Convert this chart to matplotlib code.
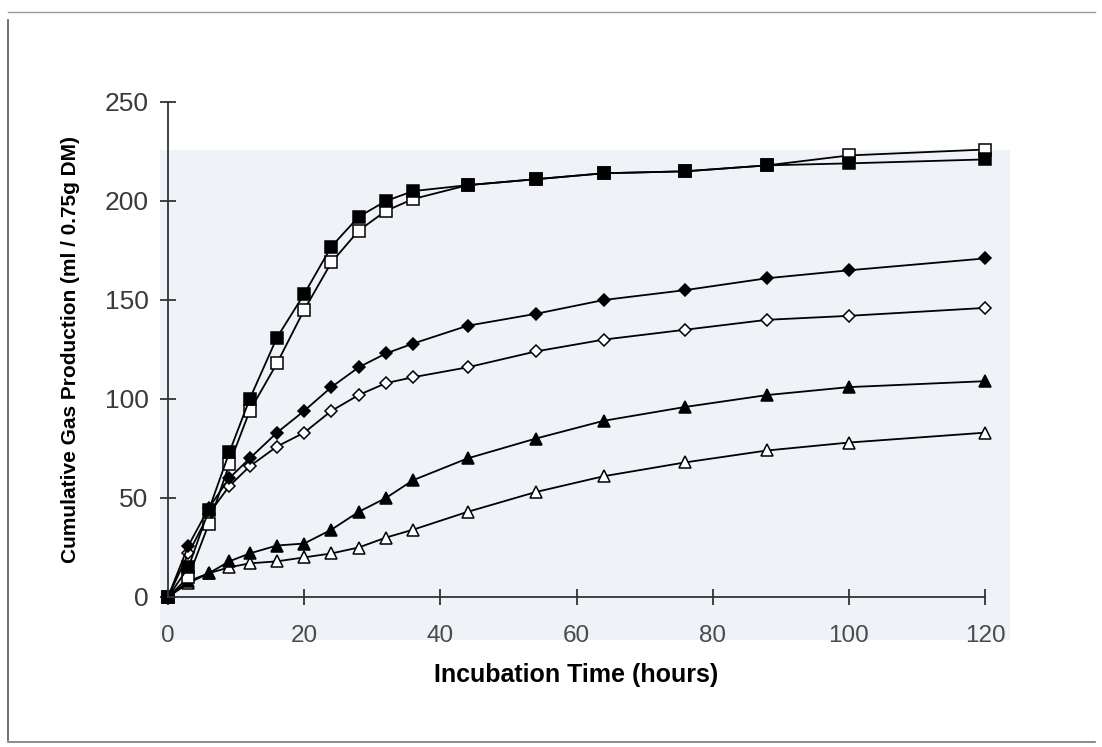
import matplotlib.pyplot as plt
from matplotlib.patches import Rectangle
from matplotlib.lines import Line2D

plt.rcParams['font.family'] = ['Liberation Sans', 'DejaVu Sans']

# incubation times (hours)
hours = [0, 3, 6, 9, 12, 16, 20, 24, 28, 32, 36, 44, 54, 64, 76, 88, 100, 120]

# cumulative gas production (ml / 0.75 g DM)
filled_square = [0, 15, 44, 73, 100, 131, 153, 177, 192, 200, 205, 208, 211, 214, 215, 218, 219, 221]
open_square = [0, 10, 37, 67, 94, 118, 145, 169, 185, 195, 201, 208, 211, 214, 215, 218, 223, 226]
filled_diamond = [0, 26, 45, 60, 70, 83, 94, 106, 116, 123, 128, 137, 143, 150, 155, 161, 165, 171]
open_diamond = [0, 22, 42, 56, 66, 76, 83, 94, 102, 108, 111, 116, 124, 130, 135, 140, 142, 146]
filled_triangle = [0, 8, 12, 18, 22, 26, 27, 34, 43, 50, 59, 70, 80, 89, 96, 102, 106, 109]
open_triangle = [0, 7, 12, 15, 17, 18, 20, 22, 25, 30, 34, 43, 53, 61, 68, 74, 78, 83]

W, H = 1102, 747
fig = plt.figure(figsize=(W / 100, H / 100), dpi=100)
fig.patch.set_facecolor('white')

# faint tinted area of the scanned page behind the plot
fig.patches.append(Rectangle((160 / W, 1 - 640 / H), 850 / W, 490 / H,
                             transform=fig.transFigure, facecolor='#eff2f7',
                             edgecolor='none', zorder=-5))
# scan border lines
fig.lines.append(Line2D([8 / W, 8 / W], [1 - 20 / H, 1 - 740 / H], transform=fig.transFigure,
                        color='#555555', lw=1.2, zorder=-5))
fig.lines.append(Line2D([8 / W, 1095 / W], [1 - 12 / H, 1 - 12 / H], transform=fig.transFigure,
                        color='#999999', lw=1.0, zorder=-5))
fig.lines.append(Line2D([8 / W, 1095 / W], [1 - 742 / H, 1 - 742 / H], transform=fig.transFigure,
                        color='#777777', lw=1.2, zorder=-5))

ax = fig.add_axes([168 / W, 1 - 597 / H, (985 - 168) / W, (597 - 102) / H])
ax.set_facecolor('none')

kw = dict(color='black', lw=1.3, markeredgecolor='black', markeredgewidth=1.1, clip_on=False)
ax.plot(hours, open_triangle, marker='^', ms=8, markerfacecolor='white', **kw)
ax.plot(hours, filled_triangle, marker='^', ms=8, markerfacecolor='black', **kw)
ax.plot(hours, open_diamond, marker='D', ms=6, markerfacecolor='white', **kw)
ax.plot(hours, filled_diamond, marker='D', ms=6, markerfacecolor='black', **kw)
ax.plot(hours, open_square, marker='s', ms=9, markerfacecolor='white', **kw)
ax.plot(hours, filled_square, marker='s', ms=9, markerfacecolor='black', **kw)

ax.set_xlim(0, 120)
ax.set_ylim(0, 250)
ax.set_xticks(range(0, 121, 20))
ax.set_yticks(range(0, 251, 50))

for s in ['top', 'right']:
    ax.spines[s].set_visible(False)
for s in ['left', 'bottom']:
    ax.spines[s].set_color('#333333')
    ax.spines[s].set_linewidth(1.3)

ax.tick_params(axis='x', direction='inout', length=12, width=1.3, colors='#333333',
               labelsize=17.5, labelcolor='#4a4a4a', pad=14)
ax.tick_params(axis='y', direction='inout', length=12, width=1.3, colors='#333333',
               labelsize=19, labelcolor='#3a3a3a', pad=8)

ax.set_xlabel('Incubation Time (hours)', fontsize=18, fontweight='bold', labelpad=12)
ax.set_ylabel('Cumulative Gas Production (ml / 0.75g DM)', fontsize=15, fontweight='bold',
              labelpad=18)

fig.savefig('out.png', dpi=100)
